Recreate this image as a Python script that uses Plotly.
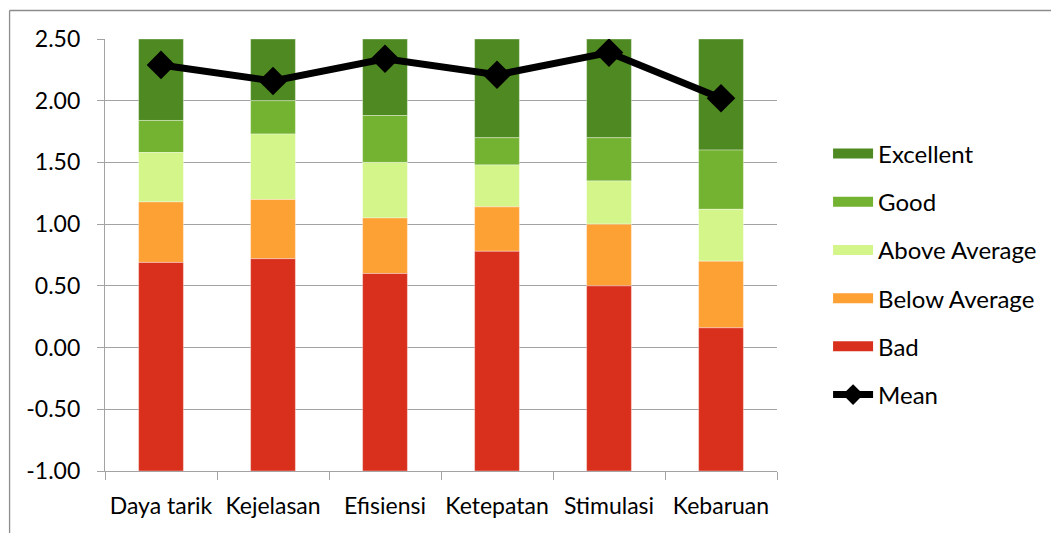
import plotly.graph_objects as go

categories = ["Daya tarik", "Kejelasan", "Efisiensi", "Ketepatan", "Stimulasi", "Kebaruan"]
lower_border = [-1.00, -1.00, -1.00, -1.00, -1.00, -1.00]
bad_upper = [0.69, 0.72, 0.60, 0.78, 0.50, 0.16]
below_upper = [1.18, 1.20, 1.05, 1.14, 1.00, 0.70]
above_upper = [1.58, 1.73, 1.50, 1.48, 1.35, 1.12]
good_upper = [1.84, 2.00, 1.88, 1.70, 1.70, 1.60]
excellent_upper = [2.50, 2.50, 2.50, 2.50, 2.50, 2.50]
mean_values = [2.29, 2.16, 2.34, 2.21, 2.39, 2.02]
y_tick_values = [-1.0, -0.5, 0.0, 0.5, 1.0, 1.5, 2.0, 2.5]
y_tick_labels = ["-1.00", "-0.50", "0.00", "0.50", "1.00", "1.50", "2.00", "2.50"]

series = [
    ("Excellent", good_upper, excellent_upper, "#4e8a21"),
    ("Good", above_upper, good_upper, "#74b231"),
    ("Above Average", below_upper, above_upper, "#d3f58a"),
    ("Below Average", bad_upper, below_upper, "#fea135"),
    ("Bad", lower_border, bad_upper, "#d9301e"),
]

FONT = "Lato"
fig = go.Figure()
for name, lo, hi, color in series:
    fig.add_trace(go.Bar(
        name=name, x=categories,
        base=lo, y=[h - l for h, l in zip(hi, lo)],
        marker=dict(color=color, line=dict(color="rgba(255,255,255,0.45)", width=0.8)),
        width=0.4, legendgroup=name, showlegend=False,
    ))
    # legend swatch as a wide, thick line
    fig.add_trace(go.Scatter(
        name=name, x=[None], y=[None], mode="lines",
        line=dict(color=color, width=16), legendgroup=name, showlegend=True,
    ))

fig.add_trace(go.Scatter(
    name="Mean", x=categories, y=mean_values, mode="lines+markers",
    line=dict(color="black", width=7),
    marker=dict(symbol="diamond", size=22, color="black"),
    legendgroup="Mean",
))

grid = "#a3a3a3"
fig.update_layout(
    width=1059, height=533,
    barmode="overlay",
    plot_bgcolor="white", paper_bgcolor="white",
    margin=dict(l=97, r=290, t=31, b=70, autoexpand=False),
    font=dict(family=FONT, size=24, color="black"),
    showlegend=True,
    legend=dict(x=1.076, xanchor="left", y=0.455, yanchor="middle",
                tracegroupgap=14, font=dict(family=FONT, size=24),
                itemwidth=40, bgcolor="rgba(0,0,0,0)"),
    xaxis=dict(showgrid=False, showline=True, linecolor=grid, linewidth=1.3,
               ticks="outside", tickson="boundaries", ticklen=8, tickcolor=grid,
               tickwidth=1.3, range=[-0.5, 5.5], tickangle=0, automargin=False,
               ticklabelstandoff=14, tickfont=dict(size=23)),
    yaxis=dict(range=[-1, 2.5], tickmode="array", tickvals=y_tick_values,
               ticktext=y_tick_labels,
               showgrid=True, gridcolor=grid, gridwidth=1.3, zeroline=False,
               showline=True, linecolor=grid, linewidth=1.3,
               ticks="outside", ticklen=7, tickcolor=grid, tickwidth=1.3,
               automargin=False, ticklabelstandoff=12, tickfont=dict(size=23)),
    shapes=[
        dict(type="line", xref="paper", yref="paper", x0=-0.142, x1=1.45,
             y0=1.066, y1=1.066, line=dict(color="#8c8c8c", width=1.3)),
        dict(type="line", xref="paper", yref="paper", x0=-0.142, x1=-0.142,
             y0=1.066, y1=-0.2, line=dict(color="#8c8c8c", width=1.3)),
    ],
)

fig.write_html("out.html")
